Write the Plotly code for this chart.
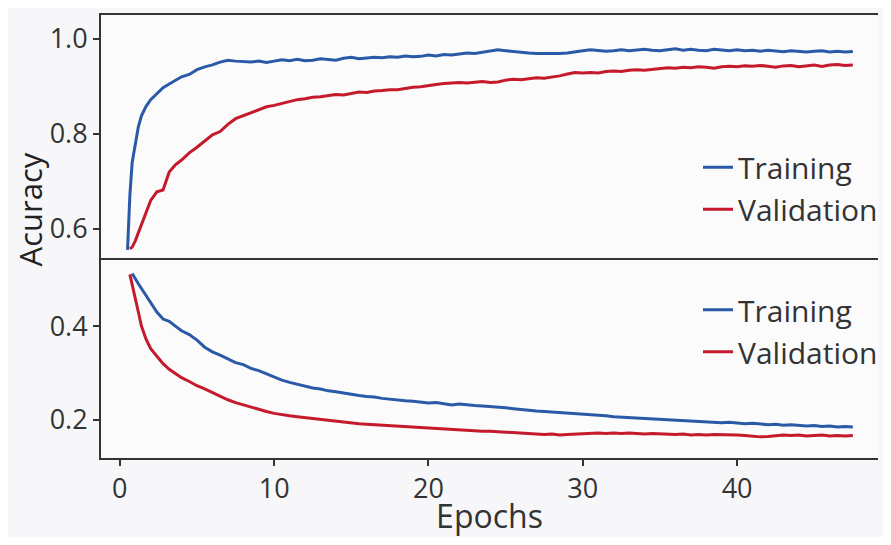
import plotly.graph_objects as go
from plotly.subplots import make_subplots

epochs = [0.5, 0.65, 0.8, 1.0, 1.2, 1.4, 1.7, 2.0, 2.4, 2.8, 3.2, 3.6, 4.0,
          4.5, 5.0, 5.5, 6.0, 6.5, 7.0, 7.5, 8.0, 8.5, 9.0, 9.5, 10.0,
          10.5, 11.0, 11.5, 12.0, 12.5, 13.0, 13.5, 14.0, 14.5, 15.0,
          15.5, 16.0, 16.5, 17.0, 17.5, 18.0, 18.5, 19.0, 19.5, 20.0,
          20.5, 21.0, 21.5, 22.0, 22.5, 23.0, 23.5, 24.0, 24.5, 25.0,
          25.5, 26.0, 26.5, 27.0, 27.5, 28.0, 28.5, 29.0, 29.5, 30.0,
          30.5, 31.0, 31.5, 32.0, 32.5, 33.0, 33.5, 34.0, 34.5, 35.0,
          35.5, 36.0, 36.5, 37.0, 37.5, 38.0, 38.5, 39.0, 39.5, 40.0,
          40.5, 41.0, 41.5, 42.0, 42.5, 43.0, 43.5, 44.0, 44.5, 45.0,
          45.5, 46.0, 46.5, 47.0, 47.5]

train_acc = [0.556, 0.67, 0.74, 0.78, 0.815, 0.838, 0.858, 0.872, 0.885, 0.897, 0.905, 0.913, 0.92,
             0.925, 0.935, 0.941, 0.945, 0.951, 0.955, 0.953, 0.952, 0.951, 0.953, 0.950, 0.953,
             0.956, 0.954, 0.957, 0.954, 0.955, 0.958, 0.956, 0.955, 0.959, 0.961,
             0.958, 0.959, 0.961, 0.960, 0.962, 0.961, 0.964, 0.962, 0.963, 0.966,
             0.964, 0.967, 0.966, 0.968, 0.970, 0.969, 0.972, 0.975, 0.977, 0.975,
             0.973, 0.971, 0.970, 0.969, 0.969, 0.968, 0.969, 0.970, 0.973, 0.975,
             0.977, 0.976, 0.974, 0.975, 0.977, 0.975, 0.976, 0.978, 0.976, 0.975,
             0.977, 0.979, 0.976, 0.978, 0.976, 0.975, 0.978, 0.976, 0.975, 0.977,
             0.975, 0.976, 0.974, 0.976, 0.975, 0.973, 0.975, 0.974, 0.972, 0.974,
             0.975, 0.972, 0.974, 0.972, 0.973]

val_acc = [None, 0.558, 0.562, 0.575, 0.592, 0.61, 0.632, 0.66, 0.678, 0.682, 0.72, 0.735, 0.745,
           0.76, 0.772, 0.785, 0.798, 0.805, 0.82, 0.832, 0.838, 0.845, 0.85, 0.857, 0.86,
           0.864, 0.868, 0.872, 0.874, 0.877, 0.878, 0.881, 0.883, 0.882, 0.885,
           0.888, 0.887, 0.89, 0.891, 0.893, 0.893, 0.896, 0.898, 0.899, 0.902,
           0.904, 0.906, 0.907, 0.908, 0.907, 0.909, 0.91, 0.908, 0.909, 0.913,
           0.915, 0.914, 0.916, 0.918, 0.917, 0.919, 0.922, 0.926, 0.929, 0.928,
           0.929, 0.928, 0.931, 0.932, 0.931, 0.934, 0.935, 0.934, 0.936, 0.937,
           0.939, 0.938, 0.94, 0.939, 0.941, 0.94, 0.938, 0.941, 0.942, 0.941,
           0.943, 0.942, 0.944, 0.942, 0.94, 0.943, 0.944, 0.941, 0.943, 0.945,
           0.942, 0.945, 0.946, 0.944, 0.945]

train_loss = [None, None, 0.512, 0.50, 0.49, 0.48, 0.465, 0.448, 0.43, 0.415, 0.41, 0.40, 0.39,
              0.382, 0.37, 0.355, 0.345, 0.338, 0.33, 0.322, 0.318, 0.31, 0.305, 0.298, 0.292,
              0.285, 0.28, 0.276, 0.272, 0.268, 0.266, 0.262, 0.26, 0.257, 0.255,
              0.252, 0.25, 0.249, 0.246, 0.244, 0.243, 0.241, 0.24, 0.238, 0.236,
              0.237, 0.235, 0.232, 0.234, 0.232, 0.231, 0.23, 0.229, 0.227, 0.226,
              0.224, 0.222, 0.221, 0.219, 0.218, 0.217, 0.216, 0.214, 0.213, 0.212,
              0.211, 0.21, 0.209, 0.207, 0.206, 0.205, 0.204, 0.204, 0.202, 0.201,
              0.2, 0.199, 0.198, 0.197, 0.196, 0.196, 0.195, 0.194, 0.195, 0.193,
              0.192, 0.193, 0.191, 0.19, 0.191, 0.189, 0.19, 0.188, 0.187, 0.188,
              0.186, 0.187, 0.185, 0.186, 0.185]

val_loss = [None, 0.51, 0.49, 0.46, 0.43, 0.40, 0.372, 0.352, 0.335, 0.32, 0.308, 0.298, 0.29,
            0.282, 0.273, 0.266, 0.258, 0.25, 0.243, 0.237, 0.232, 0.227, 0.222, 0.218, 0.214,
            0.211, 0.209, 0.207, 0.205, 0.204, 0.202, 0.2, 0.198, 0.195, 0.193,
            0.192, 0.191, 0.19, 0.189, 0.187, 0.186, 0.185, 0.184, 0.183, 0.182,
            0.181, 0.18, 0.179, 0.179, 0.178, 0.177, 0.176, 0.176, 0.175, 0.174,
            0.173, 0.172, 0.171, 0.17, 0.169, 0.17, 0.168, 0.169, 0.17, 0.171,
            0.172, 0.172, 0.171, 0.172, 0.171, 0.172, 0.171, 0.17, 0.171, 0.17,
            0.17, 0.169, 0.17, 0.168, 0.169, 0.168, 0.169, 0.169, 0.168, 0.168,
            0.167, 0.166, 0.164, 0.165, 0.167, 0.168, 0.167, 0.168, 0.166, 0.167,
            0.168, 0.166, 0.167, 0.166, 0.167]

x_ticks = [0, 10, 20, 30, 40]
acc_ticks = [0.6, 0.8, 1.0]
loss_ticks = [0.2, 0.4]

BLUE = "#2a5aa7"
RED = "#c41a2b"
AX = "#333333"
TXT = "#333333"
FONT = "Open Sans"

fig = make_subplots(rows=2, cols=1, shared_xaxes=True, vertical_spacing=0,
                    row_heights=[243 / 443, 200 / 443])

fig.add_trace(go.Scatter(x=epochs, y=train_acc, mode="lines", name="Training",
                         line=dict(color=BLUE, width=3), legend="legend",
                         legendgroup="a"), row=1, col=1)
fig.add_trace(go.Scatter(x=epochs, y=val_acc, mode="lines", name="Validation",
                         line=dict(color=RED, width=3), legend="legend",
                         legendgroup="b"), row=1, col=1)
fig.add_trace(go.Scatter(x=epochs, y=train_loss, mode="lines", name="Training",
                         line=dict(color=BLUE, width=3), legend="legend2",
                         legendgroup="c"), row=2, col=1)
fig.add_trace(go.Scatter(x=epochs, y=val_loss, mode="lines", name="Validation",
                         line=dict(color=RED, width=3), legend="legend2",
                         legendgroup="d"), row=2, col=1)

common_y = dict(showline=True, linecolor=AX, linewidth=2, ticks="outside",
                ticklen=6, tickwidth=1.5, tickcolor=AX, showgrid=False,
                zeroline=False, automargin=False,
                tickfont=dict(family=FONT, size=27, color=TXT))

fig.update_yaxes(range=[0.539, 1.05], tickvals=acc_ticks,
                 ticktext=["0.6", "0.8", "1.0"], row=1, col=1, **common_y)
fig.update_yaxes(range=[0.119, 0.545], tickvals=loss_ticks,
                 ticktext=["0.2", "0.4"], row=2, col=1, **common_y)

fig.update_xaxes(range=[-1.22, 49.13], showline=True, linecolor=AX,
                 linewidth=1.8, showgrid=False, zeroline=False, automargin=False)
fig.update_xaxes(showticklabels=False, ticks="", mirror=True, row=1, col=1)
fig.update_xaxes(tickvals=x_ticks, ticks="outside", ticklen=6, tickwidth=1.5,
                 tickcolor=AX, mirror=False,
                 tickfont=dict(family=FONT, size=27, color=TXT),
                 title=dict(text="Epochs", font=dict(family=FONT, size=32, color=TXT),
                            standoff=15),
                 row=2, col=1)

leg = dict(xanchor="left", yanchor="middle", bgcolor="rgba(0,0,0,0)",
           font=dict(family=FONT, size=30, color=TXT), tracegroupgap=0,
           itemwidth=30)

fig.update_layout(
    width=875, height=529,
    margin=dict(l=93, r=0, t=7, b=79),
    paper_bgcolor="#f7f7f9",
    plot_bgcolor="#fbfbfb",
    showlegend=True,
    legend=dict(x=0.7685, y=0.609, **leg),
    legend2=dict(x=0.7685, y=0.287, **leg),
    annotations=[dict(text="Acuracy", xref="paper", yref="paper", x=-0.092,
                      y=0.56, xanchor="center", yanchor="middle", textangle=-90,
                      showarrow=False, font=dict(family=FONT, size=31, color="#222"))],
)

fig.write_html("out.html")
